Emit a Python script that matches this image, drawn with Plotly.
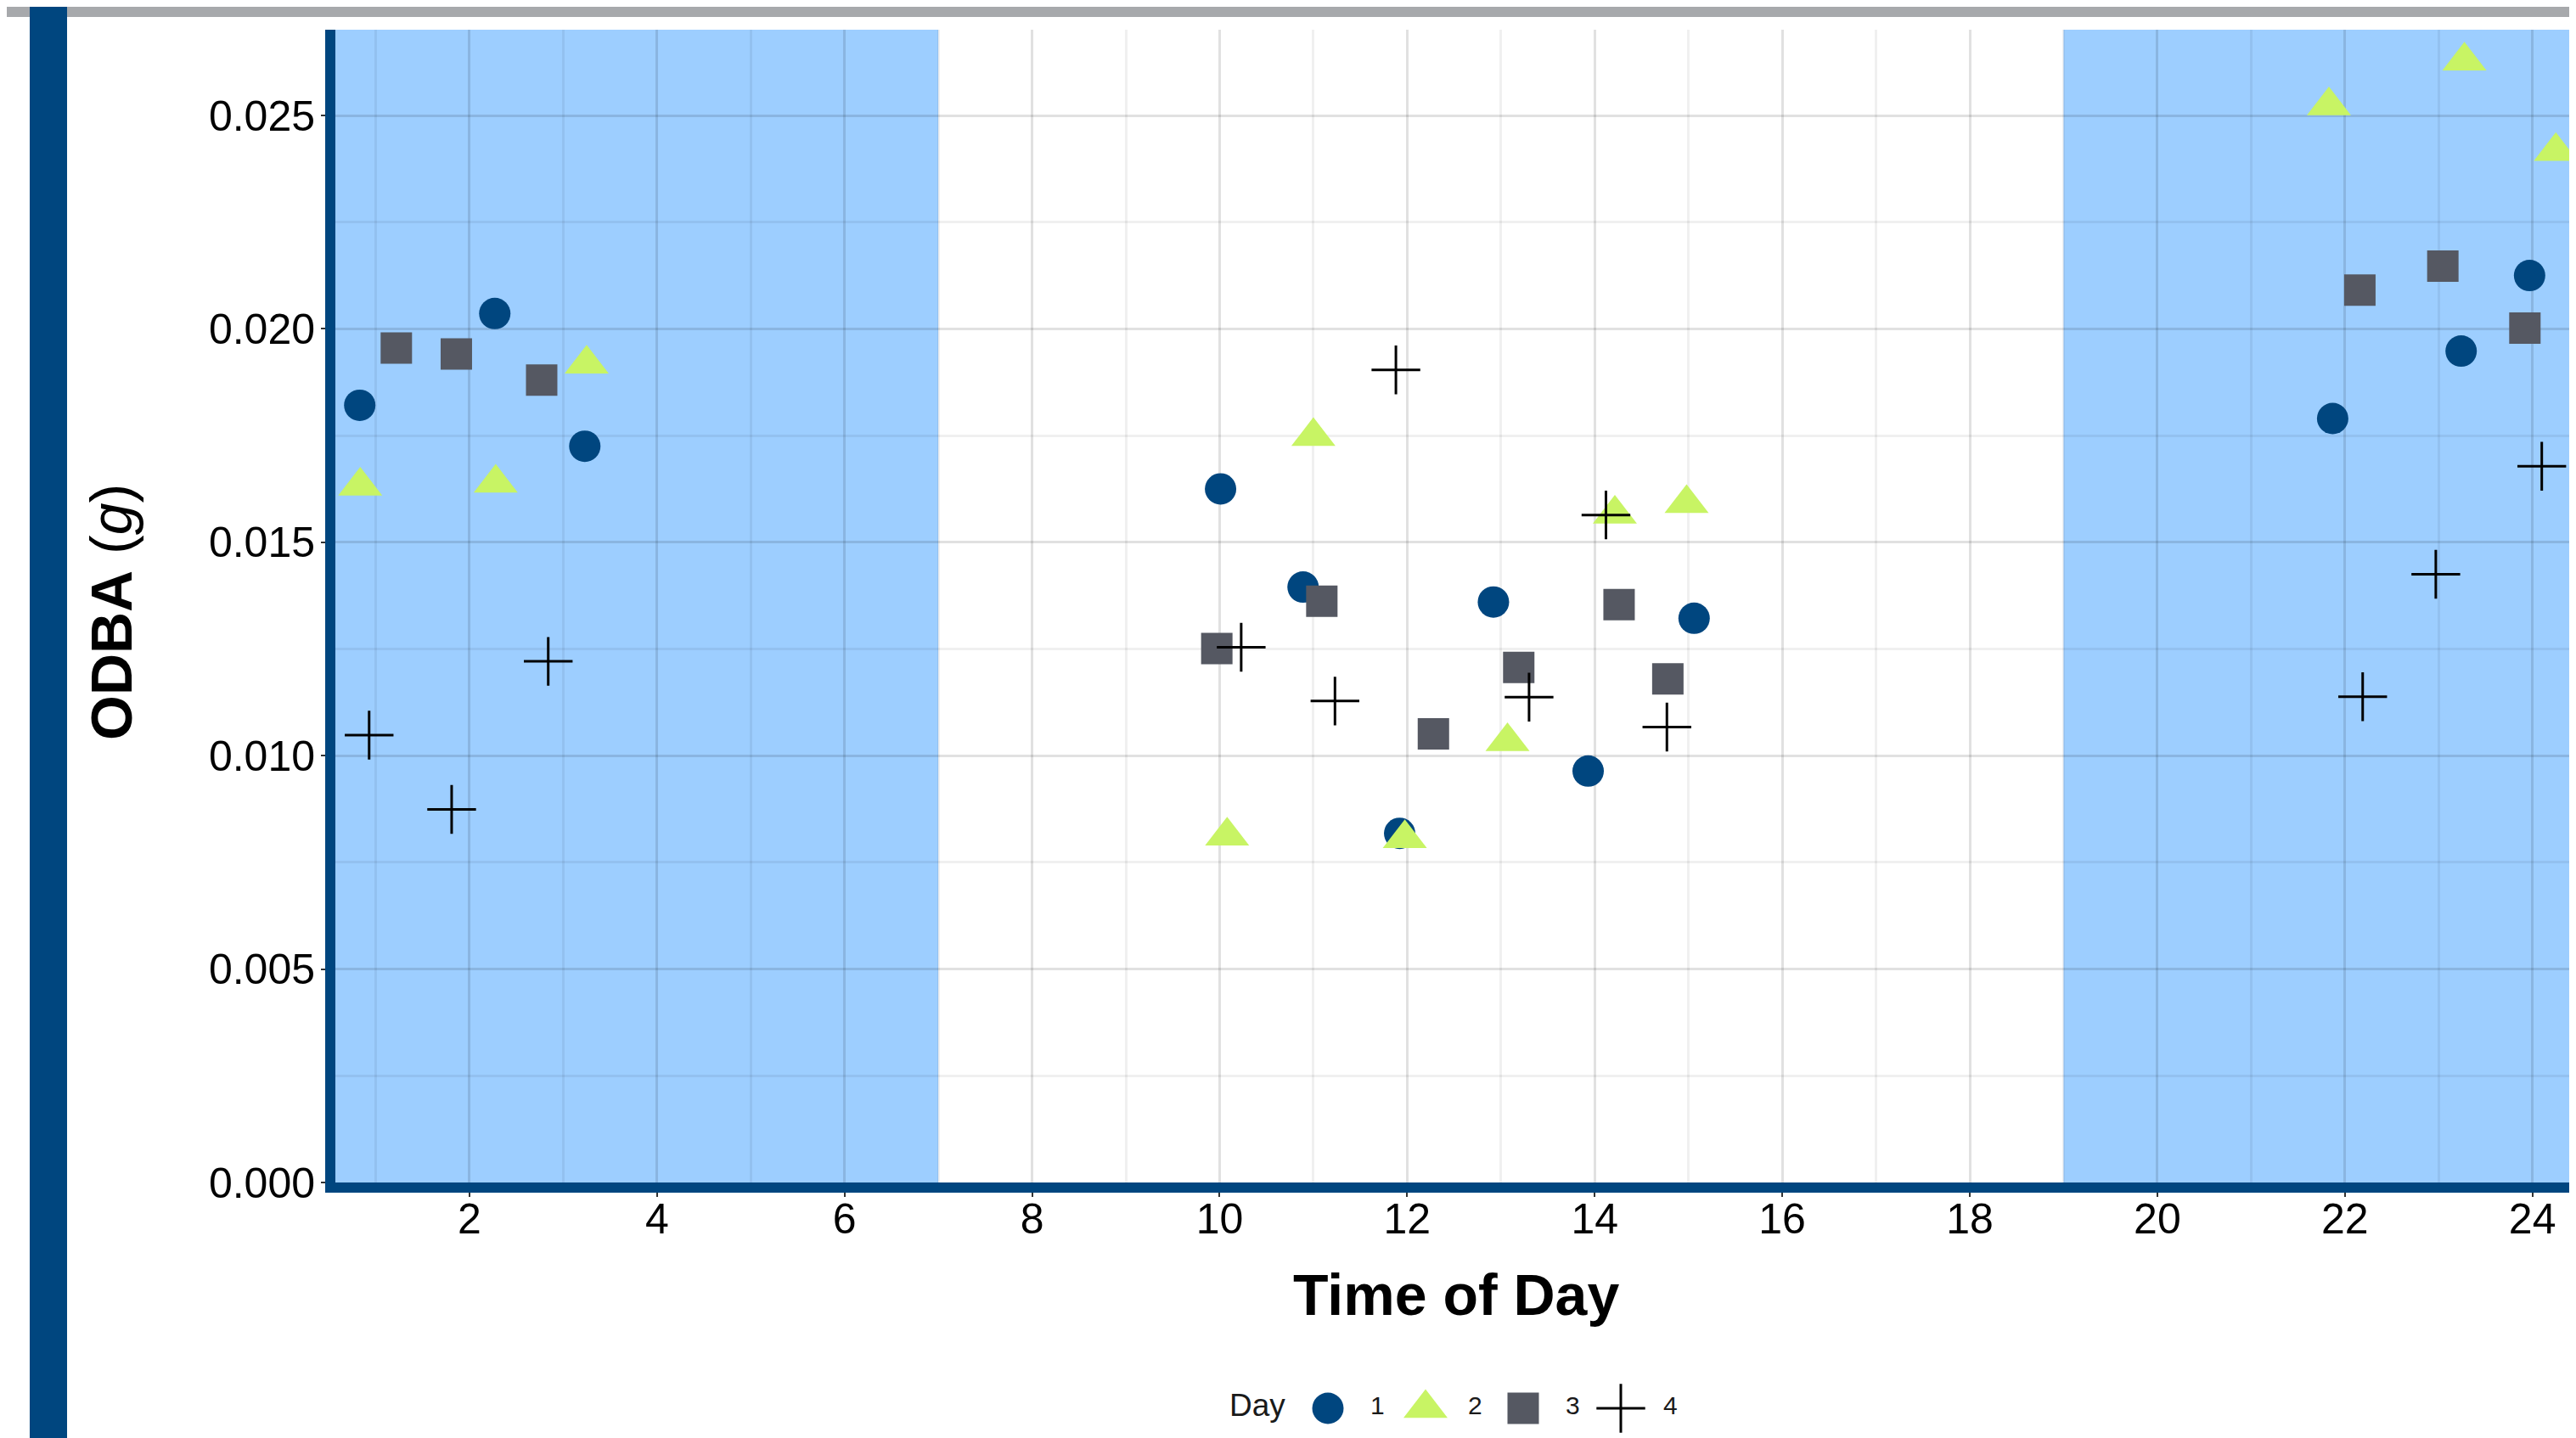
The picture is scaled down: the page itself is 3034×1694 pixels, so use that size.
import plotly.graph_objects as go

# the page body adds an 8 px margin, so the figure is drawn 8 px smaller and shifted
OFF = 8
W, H = 3034 - OFF, 1694 - OFF

# ---------------- data ----------------
day_labels = ["1", "2", "3", "4"]

day1_hour = [0.83, 2.27, 3.23, 10.01, 10.89, 11.92, 12.92, 13.93, 15.06, 21.87, 23.24, 23.97]
day1_odba = [0.01821, 0.02036, 0.01725, 0.01625, 0.01395, 0.00818, 0.01360, 0.00964, 0.01322, 0.01790, 0.01948, 0.02125]

day2_hour = [0.835, 2.28, 3.25, 10.08, 11.00, 11.975, 13.07, 14.215, 14.98, 21.83, 23.275, 24.25]
day2_odba = [0.01632, 0.01639, 0.01918, 0.00812, 0.01748, 0.00806, 0.01033, 0.01566, 0.01591, 0.02523, 0.02628, 0.02416]

day3_hour = [1.22, 1.86, 2.77, 9.97, 11.09, 12.28, 13.19, 14.26, 14.78, 22.16, 23.045, 23.92]
day3_odba = [0.01955, 0.01941, 0.01880, 0.01251, 0.01362, 0.01051, 0.01207, 0.01354, 0.01180, 0.02091, 0.02147, 0.02002]

day4_hour = [0.93, 1.81, 2.84, 10.23, 11.23, 11.88, 13.30, 14.12, 14.77, 22.19, 22.97, 24.10]
day4_odba = [0.01048, 0.00874, 0.01221, 0.01254, 0.01128, 0.01904, 0.01137, 0.01564, 0.01067, 0.01138, 0.01425, 0.01678]

night_start = [0.0, 19.0]
night_end = [7.0, 25.0]

x_tick_values = [2, 4, 6, 8, 10, 12, 14, 16, 18, 20, 22, 24]
y_tick_values = [0.000, 0.005, 0.010, 0.015, 0.020, 0.025]

# ---------------- styling ----------------
FONT = "Arial, 'Liberation Sans', sans-serif"
NAVY = "#00467F"
LIME = "#C8F464"
SLATE = "#555862"
SHADE = "#9DCEFF"
GRID = "rgba(0,0,0,0.06)"

X_RANGE = [0.570, 24.465]
Y_RANGE = [0.0, 0.027009]

# plot area in figure pixels (screen pixels minus OFF)
PL, PR, PT, PB = 395 - OFF, W, 35 - OFF, 1393 - OFF

series = [
    (day1_hour, day1_odba, dict(symbol="circle", size=37, color=NAVY, line=dict(width=0))),
    (day2_hour, day2_odba, dict(symbol="triangle-up", size=45, color=LIME, line=dict(width=0))),
    (day3_hour, day3_odba, dict(symbol="square", size=37, color=SLATE, line=dict(width=0))),
    (day4_hour, day4_odba, dict(symbol="cross-thin", size=41, color="black", line=dict(width=3, color="black"))),
]

fig = go.Figure()

for (hx, hy, mk), lab in zip(series, day_labels):
    fig.add_trace(go.Scatter(x=hx, y=hy, mode="markers", marker=mk, name=lab,
                             showlegend=False, xaxis="x", yaxis="y"))

# ---------------- custom legend (bigger keys than plotly's legend allows) ----------------
LEG_Y = H - (1659 - OFF)          # legend-axis units = pixels from the figure bottom
KEY0, KEY_STEP, LABEL_GAP = 1564 - OFF, 115, 50
fig.add_trace(go.Scatter(x=[1448 - OFF], y=[LEG_Y], mode="text", text=["Day"], textposition="middle right",
                         textfont=dict(family=FONT, size=37, color="#1a1a1a"),
                         showlegend=False, xaxis="x2", yaxis="y2", hoverinfo="skip"))
for i, ((hx, hy, mk), lab) in enumerate(zip(series, day_labels)):
    kx = KEY0 + KEY_STEP * i
    fig.add_trace(go.Scatter(x=[kx], y=[LEG_Y], mode="markers", marker=mk,
                             showlegend=False, xaxis="x2", yaxis="y2", hoverinfo="skip"))
    fig.add_trace(go.Scatter(x=[kx + LABEL_GAP], y=[LEG_Y], mode="text", text=[lab],
                             textposition="middle right",
                             textfont=dict(family=FONT, size=30, color="#1a1a1a"),
                             showlegend=False, xaxis="x2", yaxis="y2", hoverinfo="skip"))

shapes = []
for s, e in zip(night_start, night_end):
    shapes.append(dict(type="rect", xref="x", yref="y domain", x0=max(s, X_RANGE[0]), x1=min(e, X_RANGE[1]),
                       y0=0, y1=1, fillcolor=SHADE, line=dict(width=0), layer="below"))
# page decorations: grey top band and navy left band
shapes.append(dict(type="rect", xref="paper", yref="paper", x0=0, x1=1, y0=1 - (20 - OFF) / H, y1=1,
                   fillcolor="#A7A9AC", line=dict(width=0), layer="above"))
shapes.append(dict(type="rect", xref="paper", yref="paper", x0=(35 - OFF) / W, x1=(79 - OFF) / W, y0=0, y1=1,
                   fillcolor=NAVY, line=dict(width=0), layer="above"))

annotations = [
    dict(text="<b>Time of Day</b>", xref="paper", yref="paper",
         x=(PL + PR) / 2 / W, y=(H - (1525 - OFF)) / H, xanchor="center", yanchor="middle",
         showarrow=False, font=dict(family=FONT, size=68, color="black")),
    dict(text="<b>ODBA</b> (<i>g</i>)", xref="paper", yref="paper",
         x=(131 - OFF) / W, y=(H - (721 - OFF)) / H, xanchor="center", yanchor="middle", textangle=-90,
         showarrow=False, font=dict(family=FONT, size=68, color="black")),
]

tickfont = dict(family=FONT, size=50, color="black")

fig.update_layout(
    width=W, height=H,
    margin=dict(l=0, r=0, t=0, b=0),
    paper_bgcolor="white", plot_bgcolor="white",
    showlegend=False,
    shapes=shapes,
    annotations=annotations,
    xaxis=dict(domain=[PL / W, PR / W], anchor="y", range=X_RANGE,
               tickvals=x_tick_values, ticktext=[str(v) for v in x_tick_values],
               showgrid=True, gridcolor=GRID, gridwidth=2.6,
               minor=dict(dtick=1, tick0=0, showgrid=True, gridcolor=GRID, gridwidth=2.6, ticks=""),
               showline=True, linecolor=NAVY, linewidth=12,
               ticks="outside", ticklen=5, tickwidth=2, tickcolor="#333333",
               ticklabelstandoff=-17,
               tickfont=tickfont, zeroline=False, automargin=False, fixedrange=True),
    yaxis=dict(domain=[(H - PB) / H, (H - PT) / H], anchor="x", range=Y_RANGE,
               tickvals=y_tick_values, ticktext=[f"{v:.3f}" for v in y_tick_values],
               showgrid=True, gridcolor=GRID, gridwidth=2.6,
               minor=dict(dtick=0.0025, tick0=0, showgrid=True, gridcolor=GRID, gridwidth=2.6, ticks=""),
               showline=True, linecolor=NAVY, linewidth=12,
               ticks="outside", ticklen=5, tickwidth=2, tickcolor="#333333",
               ticklabelstandoff=-3,
               tickfont=tickfont, zeroline=False, automargin=False, fixedrange=True),
    xaxis2=dict(domain=[0, 1], anchor="y2", range=[0, W], visible=False, fixedrange=True),
    yaxis2=dict(domain=[0, 0.06], anchor="x2", range=[0, 0.06 * H], visible=False, fixedrange=True),
)

fig.write_html("out.html")
